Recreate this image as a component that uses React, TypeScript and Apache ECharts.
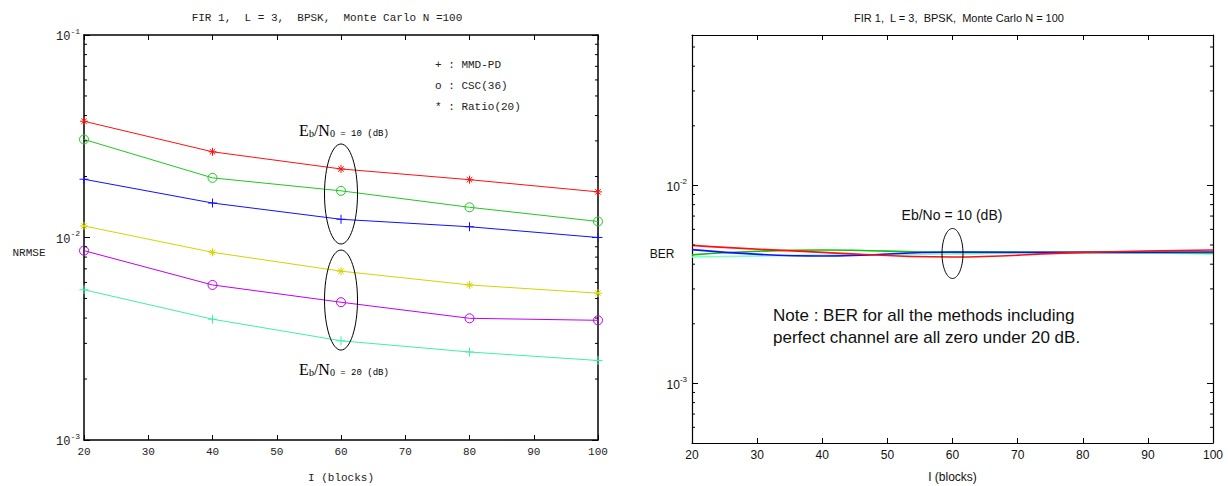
import React, { useEffect, useRef } from "react";
import * as echarts from "echarts";

// ---------- data ----------
const blocks = [20, 40, 60, 80, 100];

// Left chart: NRMSE
const ratioEb10 = [0.0375, 0.0265, 0.0218, 0.0193, 0.0168];
const cscEb10 = [0.0305, 0.0197, 0.017, 0.0141, 0.012];
const mmdEb10 = [0.0194, 0.0148, 0.0123, 0.0113, 0.01];
const ratioEb20 = [0.0114, 0.00845, 0.00682, 0.00583, 0.00531];
const cscEb20 = [0.00861, 0.00583, 0.00479, 0.00399, 0.0039];
const mmdEb20 = [0.00552, 0.00395, 0.00309, 0.00272, 0.00247];

// Right chart: BER
const berRed = [0.00498, 0.00459, 0.00435, 0.00459, 0.00472];
const berBlue = [0.00474, 0.0044, 0.00461, 0.00459, 0.00461];
const berGreen = [0.00446, 0.00472, 0.00459, 0.00459, 0.00456];
const berCyan = [0.00435, 0.00445, 0.0045, 0.00459, 0.0045];

// annotations (data coordinates of ellipse centres)
const leftEllipses = [
  [60, 0.0164],
  [60, 0.00491],
];
const rightEllipses = [[60, 0.00453]];

const legendLines = ["+ : MMD-PD", "o : CSC(36)", "* : Ratio(20)"];
const noteLines = [
  "Note : BER for all the methods including",
  "perfect channel are all zero under 20 dB.",
];

// tick values
const leftMinorTicks = [
  0.002, 0.003, 0.004, 0.005, 0.006, 0.007, 0.008, 0.009,
  0.02, 0.03, 0.04, 0.05, 0.06, 0.07, 0.08, 0.09,
];
const rightMinorTicks = [
  0.0006, 0.0007, 0.0008, 0.0009,
  0.002, 0.003, 0.004, 0.005, 0.006, 0.007, 0.008, 0.009,
  0.02, 0.03, 0.04, 0.05,
];
const X_MIN = 20;
const X_MAX = 100;

// ---------- styles ----------
const MONO = '"Liberation Mono", "DejaVu Sans Mono", monospace';
const SERIF = '"Liberation Serif", "DejaVu Serif", serif';
const SANS = '"Liberation Sans", Arial, sans-serif';

const PLUS = "path://M5,0L5,10M0,5L10,5";
const STAR = "path://M5,0L5,10M0,5L10,5M1.6,1.6L8.4,8.4M8.4,1.6L1.6,8.4";
const RING = "path://M10,5A5,5,0,1,1,0,5A5,5,0,1,1,10,5Z";

function pairs(vals: number[]) {
  return blocks.map((b, i) => [b, vals[i]]);
}

function logFormatter(v: number) {
  const e = Math.log10(v);
  const r = Math.round(e);
  if (Math.abs(e - r) > 1e-6) return "";
  return `{b|10}{s|${r}}`;
}

function xAxisCfg(grid: number, pos: "bottom" | "top", font: string, fs: number, lw: number, name?: string, nameGap?: number, labelMargin?: number, color?: string) {
  return {
    type: "value",
    gridIndex: grid,
    position: pos,
    min: X_MIN,
    max: X_MAX,
    interval: 10,
    axisLine: { show: true, onZero: false, lineStyle: { color: "#000", width: lw } },
    axisTick: { show: true, inside: true, length: 5, lineStyle: { color: "#000", width: 1 } },
    axisLabel: {
      show: pos === "bottom",
      color: color || "#222",
      fontFamily: font,
      fontSize: fs,
      margin: labelMargin ?? 6,
    },
    splitLine: { show: false },
    name: pos === "bottom" ? name : undefined,
    nameLocation: "middle",
    nameGap: nameGap,
    nameTextStyle: { color: color || "#222", fontFamily: font, fontSize: fs },
  };
}

function yAxisCfg(grid: number, pos: "left" | "right", min: number, max: number, font: string, fs: number, lw: number, color: string, margin: number) {
  return {
    type: "log",
    logBase: 10,
    gridIndex: grid,
    position: pos,
    min,
    max,
    axisLine: { show: true, onZero: false, lineStyle: { color: "#000", width: lw } },
    axisTick: { show: true, inside: true, length: 6, lineStyle: { color: "#000", width: 1 } },
    axisLabel: {
      show: pos === "left",
      formatter: logFormatter,
      margin,
      color,
      rich: {
        b: { fontFamily: font, fontSize: fs, color, lineHeight: 16, verticalAlign: "bottom" },
        s: { fontFamily: font, fontSize: fs - 4, color, verticalAlign: "top", lineHeight: 16 },
      },
    },
    splitLine: { show: false },
    minorTick: { show: false },
  };
}

function minorTickSeries(xIdx: number, yIdx: number, values: number[], len: number) {
  return {
    type: "custom",
    xAxisIndex: xIdx,
    yAxisIndex: yIdx,
    silent: true,
    z: 6,
    data: values.map((v) => [X_MIN, v]),
    renderItem: (_p: any, api: any) => {
      const v = api.value(1);
      const a = api.coord([X_MIN, v]);
      const b = api.coord([X_MAX, v]);
      return {
        type: "group",
        children: [
          { type: "line", shape: { x1: a[0], y1: a[1], x2: a[0] + len, y2: a[1] }, style: { stroke: "#000", lineWidth: 1 } },
          { type: "line", shape: { x1: b[0] - len, y1: b[1], x2: b[0], y2: b[1] }, style: { stroke: "#000", lineWidth: 1 } },
        ],
      };
    },
  };
}

function ellipseSeries(xIdx: number, yIdx: number, centres: number[][], rx: number, ry: number) {
  return {
    type: "custom",
    xAxisIndex: xIdx,
    yAxisIndex: yIdx,
    silent: true,
    z: 7,
    data: centres,
    renderItem: (_p: any, api: any) => {
      const c = api.coord([api.value(0), api.value(1)]);
      return {
        type: "ellipse",
        shape: { cx: c[0], cy: c[1], rx, ry },
        style: { fill: "none", stroke: "#000", lineWidth: 1 },
      };
    },
  };
}

function leftLine(vals: number[], color: string, symbol: string, size: number, hollow = false) {
  return {
    type: "line",
    xAxisIndex: 0,
    yAxisIndex: 0,
    data: pairs(vals),
    symbol,
    symbolSize: size,
    showSymbol: true,
    lineStyle: { color, width: 1 },
    itemStyle: { color: hollow ? "rgba(255,255,255,0)" : color, borderColor: color, borderWidth: 1 },
    emphasis: { disabled: true },
    z: 3,
  };
}

function rightLine(vals: number[], color: string) {
  return {
    type: "line",
    xAxisIndex: 2,
    yAxisIndex: 2,
    data: pairs(vals),
    showSymbol: false,
    symbol: "none",
    smooth: 0.45,
    lineStyle: { color, width: 1.6 },
    itemStyle: { color },
    emphasis: { disabled: true },
    z: 3,
  };
}

const ebLeftRich = {
  E: { fontFamily: SERIF, fontSize: 16, color: "#222", verticalAlign: "bottom", lineHeight: 18 },
  s: { fontFamily: SERIF, fontSize: 10, color: "#222", verticalAlign: "bottom", lineHeight: 18 },
  t: { fontFamily: MONO, fontSize: 9, color: "#222", verticalAlign: "bottom", lineHeight: 17 },
};

const option: any = {
  animation: false,
  backgroundColor: "#fff",
  grid: [
    { left: 84, top: 35, width: 514, height: 405, containLabel: false, outerBoundsMode: "none" },
    { left: 692, top: 35, width: 521, height: 408, containLabel: false, outerBoundsMode: "none" },
  ],
  xAxis: [
    xAxisCfg(0, "bottom", MONO, 11, 1.5, "I (blocks)", 32, 6, "#222"),
    xAxisCfg(0, "top", MONO, 11, 1.5),
    xAxisCfg(1, "bottom", SANS, 12, 1.2, "I (blocks)", 28, 6, "#111"),
    xAxisCfg(1, "top", SANS, 12, 1.2),
  ],
  yAxis: [
    yAxisCfg(0, "left", 0.001, 0.1, MONO, 12, 1.5, "#222", 4),
    yAxisCfg(0, "right", 0.001, 0.1, MONO, 12, 1.5, "#222", 4),
    yAxisCfg(1, "left", 0.0005, 0.0575, SANS, 12, 1.2, "#111", 5),
    yAxisCfg(1, "right", 0.0005, 0.0575, SANS, 12, 1.2, "#111", 5),
  ],
  series: [
    leftLine(ratioEb10, "#ff1010", STAR, 8),
    leftLine(cscEb10, "#20c820", RING, 9, true),
    leftLine(mmdEb10, "#1010ff", PLUS, 9),
    leftLine(ratioEb20, "#d4d400", STAR, 8),
    leftLine(cscEb20, "#c000f0", RING, 9, true),
    leftLine(mmdEb20, "#40f0a8", PLUS, 9),
    rightLine(berCyan, "#80ffc0"),
    rightLine(berGreen, "#10c010"),
    rightLine(berBlue, "#1010ff"),
    rightLine(berRed, "#ff1010"),
    minorTickSeries(0, 0, leftMinorTicks, 3),
    minorTickSeries(2, 2, rightMinorTicks, 3),
    ellipseSeries(0, 0, leftEllipses, 16.5, 50),
    ellipseSeries(2, 2, rightEllipses, 10.5, 25),
  ],
  graphic: [
    { type: "text", x: 327, y: 18, style: { text: "FIR 1,  L = 3,  BPSK,  Monte Carlo N =100", fontFamily: MONO, fontSize: 11, fill: "#222", align: "center", verticalAlign: "middle" } },
    { type: "text", x: 29, y: 253, style: { text: "NRMSE", fontFamily: MONO, fontSize: 11, fill: "#222", align: "center", verticalAlign: "middle" } },
    ...legendLines.map((t, i) => ({
      type: "text",
      x: 435,
      y: 65 + i * 21,
      style: { text: t, fontFamily: MONO, fontSize: 11, fill: "#222", align: "left", verticalAlign: "middle" },
    })),
    { type: "text", x: 344, y: 129, style: { text: "{E|E}{s|b}{E|/N}{s|0}{t| = 10 (dB)}", rich: ebLeftRich, align: "center", verticalAlign: "middle" } },
    { type: "text", x: 344, y: 368, style: { text: "{E|E}{s|b}{E|/N}{s|0}{t| = 20 (dB)}", rich: ebLeftRich, align: "center", verticalAlign: "middle" } },
    { type: "text", x: 959, y: 18, style: { text: "FIR 1,  L = 3,  BPSK,  Monte Carlo N = 100", fontFamily: SANS, fontSize: 11, fill: "#111", align: "center", verticalAlign: "middle" } },
    { type: "text", x: 662, y: 254, style: { text: "BER", fontFamily: SANS, fontSize: 12, fill: "#111", align: "center", verticalAlign: "middle" } },
    { type: "text", x: 952, y: 215, style: { text: "Eb/No = 10 (dB)", fontFamily: SANS, fontSize: 14, fill: "#111", align: "center", verticalAlign: "middle" } },
    ...noteLines.map((t, i) => ({
      type: "text",
      x: 773,
      y: 315 + i * 22,
      style: { text: t, fontFamily: SANS, fontSize: 17, fill: "#111", align: "left", verticalAlign: "middle" },
    })),
  ],
};

export default function App() {
  const ref = useRef<HTMLDivElement>(null);
  useEffect(() => {
    const chart = echarts.init(ref.current!, null, { renderer: "svg" });
    chart.setOption(option);
    return () => chart.dispose();
  }, []);
  return (
    <div
      ref={ref}
      style={{ position: "absolute", left: 0, top: 0, width: 1228, height: 486, background: "#fff" }}
    />
  );
}
